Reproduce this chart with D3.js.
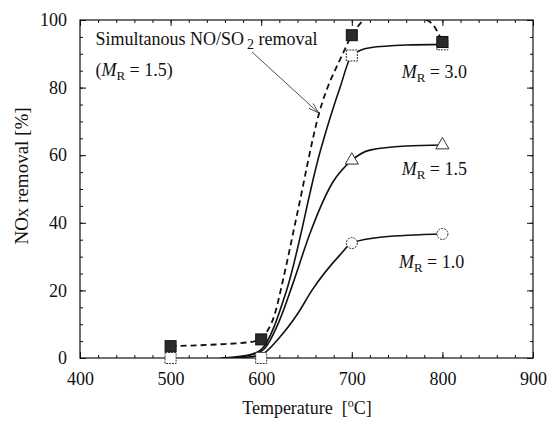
<!DOCTYPE html>
<html>
<head>
<meta charset="utf-8">
<script src="https://cdn.jsdelivr.net/npm/d3@7"></script>
<style>
  body { margin: 0; background: #fff; }
  svg text { font-family: 'Liberation Serif', 'Times New Roman', serif; fill: #111; }
</style>
</head>
<body>
<div id="chart"></div>
<script>
// measured points (temperature in degC, NOx removal in %)
const temps = [500, 600, 700, 800];
const simRemoval = [3.5, 5.5, 95.5, 93.5];    // filled squares, simultaneous NO/SO2
const mr30Removal = [0, 0, 89.5, 92.8];       // open squares
const mr15Temps = [700, 800];
const mr15Removal = [58.5, 63];               // triangles
const mr10Temps = [700, 800];
const mr10Removal = [34, 36.7];               // circles

// hand-drawn guide curves
const curveSim = [[500, 3.5], [550, 4], [590, 4.8], [600, 6], [615, 13], [624, 23], [640, 43],
  [664, 72.5], [690, 90], [700, 95.5], [713, 100], [745, 104.5], [778, 100.5], [790, 98.5], [800, 93.5]];
const curveMR30 = [[555, 0], [585, 0.8], [600, 2.5], [628, 20], [665, 61], [687, 80], [700, 89.5],
  [720, 91.8], [760, 92.6], [800, 92.8]];
const curveMR15 = [[570, 0], [600, 2], [620, 11], [635, 22], [654, 37], [679, 52], [700, 58.5],
  [720, 61.5], [760, 62.7], [800, 63]];
const curveMR10 = [[575, 0], [600, 1], [620, 6], [640, 13], [656, 20], [687, 30.5], [700, 34],
  [734, 35.8], [800, 36.7]];

const xTicks = [400, 500, 600, 700, 800, 900];
const yTicks = [0, 20, 40, 60, 80, 100];

const cfg = {
  width: 553,
  height: 426,
  left: 80,
  right: 533,
  top: 20,
  bottom: 358,
  font: 18,
  serif: "'Liberation Serif', 'Times New Roman', serif",
};

const svg = d3.select('#chart').append('svg')
  .attr('width', cfg.width)
  .attr('height', cfg.height)
  .attr('font-family', cfg.serif);

const x = d3.scaleLinear().domain([400, 900]).range([cfg.left, cfg.right]);
const y = d3.scaleLinear().domain([0, 100]).range([cfg.bottom, cfg.top]);

svg.append('clipPath').attr('id', 'plot-clip')
  .append('rect')
  .attr('x', cfg.left).attr('y', cfg.top)
  .attr('width', cfg.right - cfg.left).attr('height', cfg.bottom - cfg.top);

// axes: ticks point inward on all four sides
function styleAxis(g) {
  g.attr('font-family', cfg.serif);
  g.select('.domain').remove();
  g.selectAll('line').attr('stroke', '#111').attr('stroke-width', 1);
  g.selectAll('text').style('font-size', `${cfg.font}px`).style('font-family', cfg.serif).attr('fill', '#111');
}

const minorX = d3.range(400, 901, 20);
const minorY = d3.range(0, 101, 5);

svg.append('g').attr('transform', `translate(0,${cfg.bottom})`)
  .call(d3.axisBottom(x).tickValues(minorX).tickSize(-3).tickFormat(''))
  .call(styleAxis);
svg.append('g').attr('transform', `translate(0,${cfg.bottom})`)
  .call(d3.axisBottom(x).tickValues(xTicks).tickSize(-6).tickPadding(14).tickFormat(d3.format('d')))
  .call(styleAxis);
svg.append('g').attr('transform', `translate(0,${cfg.top})`)
  .call(d3.axisTop(x).tickValues(minorX).tickSize(-3).tickFormat(''))
  .call(styleAxis);
svg.append('g').attr('transform', `translate(0,${cfg.top})`)
  .call(d3.axisTop(x).tickValues(xTicks).tickSize(-6).tickFormat(''))
  .call(styleAxis);

svg.append('g').attr('transform', `translate(${cfg.left},0)`)
  .call(d3.axisLeft(y).tickValues(minorY).tickSize(-3).tickFormat(''))
  .call(styleAxis);
svg.append('g').attr('transform', `translate(${cfg.left},0)`)
  .call(d3.axisLeft(y).tickValues(yTicks).tickSize(-6).tickPadding(13).tickFormat(d3.format('d')))
  .call(styleAxis);
svg.append('g').attr('transform', `translate(${cfg.right},0)`)
  .call(d3.axisRight(y).tickValues(minorY).tickSize(-3).tickFormat(''))
  .call(styleAxis);
svg.append('g').attr('transform', `translate(${cfg.right},0)`)
  .call(d3.axisRight(y).tickValues(yTicks).tickSize(-6).tickFormat(''))
  .call(styleAxis);

svg.append('rect')
  .attr('x', cfg.left).attr('y', cfg.top)
  .attr('width', cfg.right - cfg.left).attr('height', cfg.bottom - cfg.top)
  .attr('fill', 'none').attr('stroke', '#111').attr('stroke-width', 1.2);

// curves
const line = d3.line()
  .x(d => x(d[0]))
  .y(d => y(d[1]))
  .curve(d3.curveMonotoneX);

const plot = svg.append('g').attr('clip-path', 'url(#plot-clip)');

[curveMR10, curveMR15, curveMR30].forEach((c) => {
  plot.append('path')
    .datum(c)
    .attr('d', line)
    .attr('fill', 'none')
    .attr('stroke', '#111')
    .attr('stroke-width', 1.6);
});

plot.append('path')
  .datum(curveSim)
  .attr('d', line)
  .attr('fill', 'none')
  .attr('stroke', '#111')
  .attr('stroke-width', 1.8)
  .attr('stroke-dasharray', '6,4');

// markers
const sq = 11;
svg.append('g').selectAll('rect')
  .data(temps.map((t, i) => [t, mr30Removal[i]]))
  .enter().append('rect')
  .attr('x', d => x(d[0]) - sq / 2)
  .attr('y', d => y(d[1]) - sq / 2)
  .attr('width', sq).attr('height', sq)
  .attr('fill', '#fff')
  .attr('stroke', '#333')
  .attr('stroke-width', 1)
  .attr('stroke-dasharray', '2,1');

svg.append('g').selectAll('path')
  .data(mr15Temps.map((t, i) => [t, mr15Removal[i]]))
  .enter().append('path')
  .attr('transform', d => `translate(${x(d[0])},${y(d[1])})`)
  .attr('d', d3.symbol(d3.symbolTriangle, 75))
  .attr('fill', '#fff')
  .attr('stroke', '#333')
  .attr('stroke-width', 1);

svg.append('g').selectAll('circle')
  .data(mr10Temps.map((t, i) => [t, mr10Removal[i]]))
  .enter().append('circle')
  .attr('cx', d => x(d[0]))
  .attr('cy', d => y(d[1]))
  .attr('r', 5.5)
  .attr('fill', '#fff')
  .attr('stroke', '#333')
  .attr('stroke-width', 1)
  .attr('stroke-dasharray', '2,1');

svg.append('g').selectAll('rect')
  .data(temps.map((t, i) => [t, simRemoval[i]]))
  .enter().append('rect')
  .attr('x', d => x(d[0]) - sq / 2)
  .attr('y', d => y(d[1]) - sq / 2)
  .attr('width', sq).attr('height', sq)
  .attr('fill', '#2a2a2a')
  .attr('stroke', '#111')
  .attr('stroke-width', 1);

// series labels with subscript R
function mrLabel(px, py, value) {
  const t = svg.append('text')
    .attr('x', px).attr('y', py)
    .style('font-size', `${cfg.font}px`);
  t.append('tspan').text('M').style('font-style', 'italic');
  t.append('tspan').text('R').attr('dy', 4).style('font-size', '13px');
  t.append('tspan').text(` = ${value}`).attr('dy', -4);
  return t;
}

mrLabel(x(755), y(82.8), '3.0');
mrLabel(x(755), y(54.1), '1.5');
mrLabel(x(752), y(26.6), '1.0');

// annotation for the dashed curve
const note = svg.append('text')
  .attr('x', x(417)).attr('y', y(92.5))
  .style('font-size', `${cfg.font}px`);
note.append('tspan').text('Simultanous NO/SO');
note.append('tspan').text('2').attr('dx', 3).attr('dy', 4).style('font-size', '14px');
note.append('tspan').text(' removal').attr('dy', -4);

const note2 = svg.append('text')
  .attr('x', x(417)).attr('y', y(83.3))
  .style('font-size', `${cfg.font}px`);
note2.append('tspan').text('(');
note2.append('tspan').text('M').style('font-style', 'italic');
note2.append('tspan').text('R').attr('dy', 4).style('font-size', '13px');
note2.append('tspan').text(' = 1.5)').attr('dy', -4);

const arrowFrom = [590, 90.5];
const arrowTo = [663.5, 72.5];
const ax0 = x(arrowFrom[0]);
const ay0 = y(arrowFrom[1]);
const ax1 = x(arrowTo[0]);
const ay1 = y(arrowTo[1]);
svg.append('line')
  .attr('x1', ax0).attr('y1', ay0)
  .attr('x2', ax1).attr('y2', ay1)
  .attr('stroke', '#222').attr('stroke-width', 0.8);
const ang = Math.atan2(ay1 - ay0, ax1 - ax0);
const headLen = 11;
[0.3, -0.3].forEach((off) => {
  svg.append('line')
    .attr('x1', ax1).attr('y1', ay1)
    .attr('x2', ax1 - headLen * Math.cos(ang + off))
    .attr('y2', ay1 - headLen * Math.sin(ang + off))
    .attr('stroke', '#222').attr('stroke-width', 0.8);
});

// axis titles
const xt = svg.append('text')
  .attr('x', 307)
  .attr('y', 414)
  .attr('text-anchor', 'middle')
  .style('font-size', `${cfg.font}px`);
xt.append('tspan').text('Temperature');
xt.append('tspan').text('[').attr('dx', 9);
xt.append('tspan').text('o').attr('dy', -7).style('font-size', '12px');
xt.append('tspan').text('C]').attr('dy', 7);

svg.append('text')
  .attr('transform', 'translate(28,176) rotate(-90)')
  .attr('text-anchor', 'middle')
  .style('font-size', '19px')
  .text('NOx removal [%]');
</script>
</body>
</html>
